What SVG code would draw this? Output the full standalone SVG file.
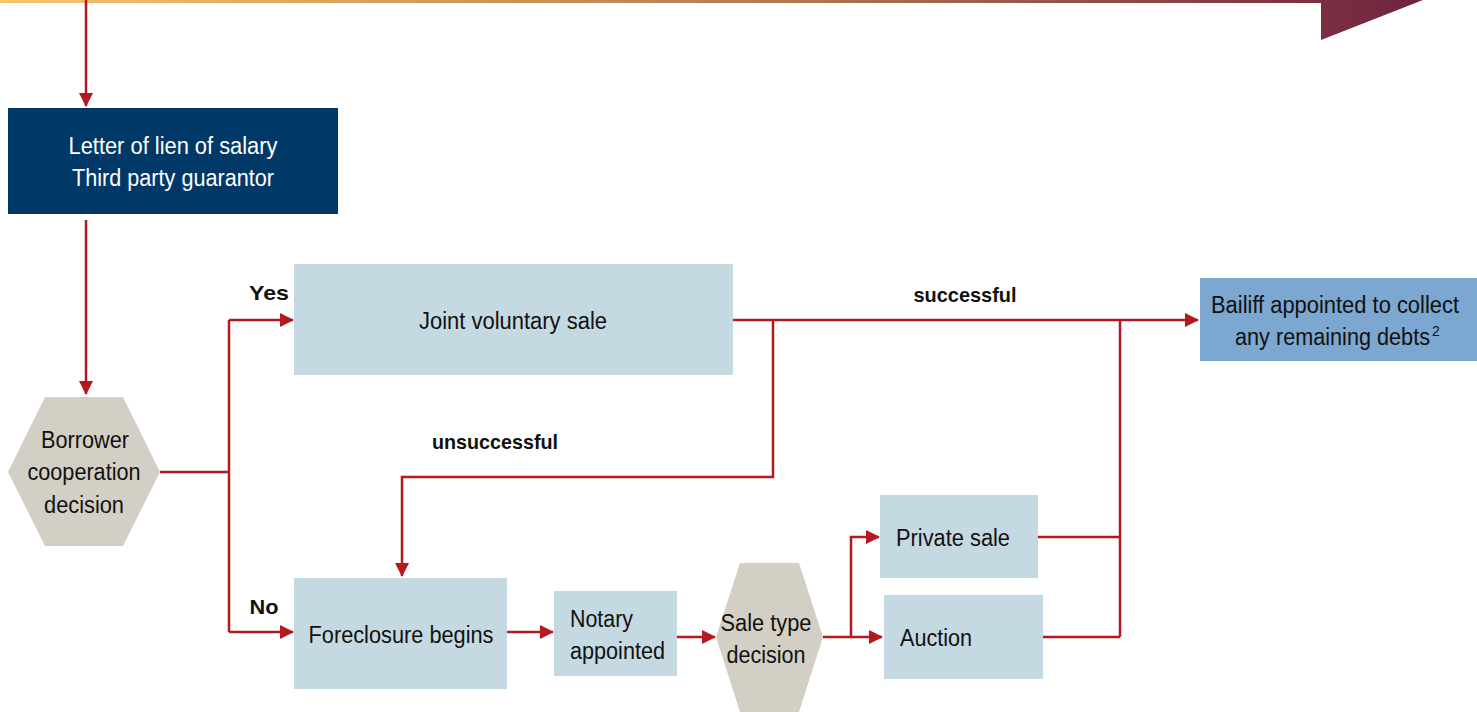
<svg xmlns="http://www.w3.org/2000/svg" width="1477" height="712" viewBox="0 0 1477 712">
<defs>
<linearGradient id="bar" x1="0" y1="0" x2="1" y2="0">
<stop offset="0" stop-color="#f5c66e"/>
<stop offset="0.6" stop-color="#b07850"/>
<stop offset="1" stop-color="#7a3040"/>
</linearGradient>
<linearGradient id="tri" x1="0" y1="0" x2="1" y2="0">
<stop offset="0" stop-color="#7a3040"/>
<stop offset="1" stop-color="#6e2340"/>
</linearGradient>
<marker id="ahs" markerWidth="14" markerHeight="14" refX="13" refY="7" orient="auto" markerUnits="userSpaceOnUse" viewBox="0 0 14 14">
<path d="M0,0 L14,7 L0,14 z" fill="#b5191f"/>
</marker>
</defs>
<style>
.t{font-family:"Liberation Sans Narrow","Arial Narrow","Liberation Sans",Arial,sans-serif;font-size:23px;fill:#111;text-anchor:middle}
.s{text-anchor:start}
.w{fill:#fff}
.b{font-weight:bold;font-size:21px}
.c{fill:none;stroke:#b5191f;stroke-width:2.5}
.box{fill:#c5d9e2}
.hex{fill:#d3cfc4}
</style>
<rect x="0" y="0" width="1322" height="3" fill="url(#bar)"/>
<polygon points="1321,0 1423,0 1321,40" fill="url(#tri)"/>

<g id="connectors">
<path class="c" d="M86,0 V106" marker-end="url(#ahs)"/>
<path class="c" d="M86,220 V394" marker-end="url(#ahs)"/>
<path class="c" d="M160,472 H229"/>
<path class="c" d="M229,320 V632"/>
<path class="c" d="M229,320 H293" marker-end="url(#ahs)"/>
<path class="c" d="M229,632 H293" marker-end="url(#ahs)"/>
<path class="c" d="M733,320 H1198" marker-end="url(#ahs)"/>
<path class="c" d="M773,320 V477 H402 V576" marker-end="url(#ahs)"/>
<path class="c" d="M507,632 H553" marker-end="url(#ahs)"/>
<path class="c" d="M677,637 H715" marker-end="url(#ahs)"/>
<path class="c" d="M823,637 H882" marker-end="url(#ahs)"/>
<path class="c" d="M851,637 V537 H879" marker-end="url(#ahs)"/>
<path class="c" d="M1038,537 H1120"/>
<path class="c" d="M1043,637 H1120"/>
<path class="c" d="M1120,320 V637"/>
</g>
<g id="labels">
<text class="t b" x="269" y="300" textLength="40" lengthAdjust="spacingAndGlyphs">Yes</text>
<text class="t b" x="264" y="614" textLength="29" lengthAdjust="spacingAndGlyphs">No</text>
<text class="t b" x="965" y="302" textLength="103" lengthAdjust="spacingAndGlyphs">successful</text>
<text class="t b" x="495" y="449" textLength="126" lengthAdjust="spacingAndGlyphs">unsuccessful</text>
</g>

<g id="letter">
<rect x="8" y="108" width="330" height="106" fill="#003868"/>
<text class="t w" x="173" y="154" textLength="209" lengthAdjust="spacingAndGlyphs">Letter of lien of salary</text>
<text class="t w" x="173" y="186" textLength="202" lengthAdjust="spacingAndGlyphs">Third party guarantor</text>
</g>
<g id="borrower">
<polygon class="hex" points="8,472 45,397 123,397 160,472 123,546 45,546"/>
<text class="t" x="85" y="448" textLength="88" lengthAdjust="spacingAndGlyphs">Borrower</text>
<text class="t" x="84" y="480" textLength="113" lengthAdjust="spacingAndGlyphs">cooperation</text>
<text class="t" x="84" y="513" textLength="80" lengthAdjust="spacingAndGlyphs">decision</text>
</g>
<g id="joint">
<rect class="box" x="294" y="264" width="439" height="111"/>
<text class="t" x="513" y="329" textLength="188" lengthAdjust="spacingAndGlyphs">Joint voluntary sale</text>
</g>
<g id="bailiff">
<rect x="1200" y="278" width="277" height="83" fill="#7ba7d0"/>
<text class="t" x="1335" y="313" textLength="248" lengthAdjust="spacingAndGlyphs">Bailiff appointed to collect</text>
<text class="t s" x="1235" y="345"><tspan textLength="195" lengthAdjust="spacingAndGlyphs">any remaining debts</tspan><tspan font-size="14" dx="2" dy="-9">2</tspan></text>
</g>
<g id="foreclosure">
<rect class="box" x="294" y="578" width="213" height="111"/>
<text class="t" x="401" y="643" textLength="185" lengthAdjust="spacingAndGlyphs">Foreclosure begins</text>
</g>
<g id="notary">
<rect class="box" x="554" y="591" width="123" height="85"/>
<text class="t s" x="570" y="627" textLength="63" lengthAdjust="spacingAndGlyphs">Notary</text>
<text class="t s" x="570" y="659" textLength="95" lengthAdjust="spacingAndGlyphs">appointed</text>
</g>
<g id="saletype">
<polygon class="hex" points="716,637 740,563 799,563 823,637 799,712 740,712"/>
<text class="t" x="766" y="631" textLength="91" lengthAdjust="spacingAndGlyphs">Sale type</text>
<text class="t" x="766" y="663" textLength="79" lengthAdjust="spacingAndGlyphs">decision</text>
</g>
<g id="private">
<rect class="box" x="880" y="495" width="158" height="83"/>
<text class="t" x="953" y="546" textLength="114" lengthAdjust="spacingAndGlyphs">Private sale</text>
</g>
<g id="auction">
<rect class="box" x="884" y="595" width="159" height="84"/>
<text class="t s" x="900" y="646" textLength="72" lengthAdjust="spacingAndGlyphs">Auction</text>
</g>
</svg>
